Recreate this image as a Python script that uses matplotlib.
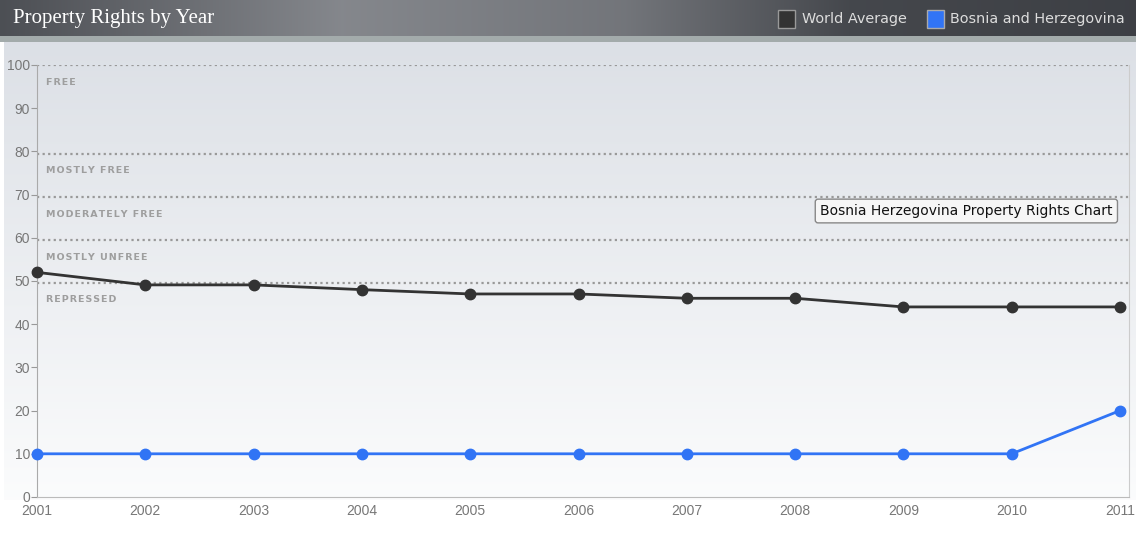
import numpy as np
import matplotlib
matplotlib.use('Agg')
import matplotlib.pyplot as plt
from matplotlib.patches import Rectangle

years = [2001, 2002, 2003, 2004, 2005, 2006, 2007, 2008, 2009, 2010, 2011]
world_average = [52, 49.1, 49.1, 48, 47, 47, 46, 46, 44, 44, 44]
bosnia = [10, 10, 10, 10, 10, 10, 10, 10, 10, 10, 20]
band_edges = [100, 79.5, 69.5, 59.5, 49.5]
band_labels = ['FREE', 'MOSTLY FREE', 'MODERATELY FREE', 'MOSTLY UNFREE', 'REPRESSED']
y_ticks = list(range(0, 101, 10))

W, H = 1136, 553
fig = plt.figure(figsize=(W / 100, H / 100), dpi=100)
fig.patch.set_facecolor('white')


def fx(px):
    return px / W


def fy(py):
    return 1 - py / H


# header bar with horizontal gradient
hdr = fig.add_axes([0, fy(36), 1, 36 / H])
xs = np.linspace(0, 1, 400)
prof = np.interp(xs, [0, 0.3, 0.55, 0.75, 1], [0.30, 0.52, 0.45, 0.27, 0.24])
img = np.zeros((2, 400, 3))
img[..., 0] = prof
img[..., 1] = prof + 0.01
img[..., 2] = prof + 0.03
hdr.imshow(np.clip(img, 0, 1), aspect='auto', extent=[0, 1, 0, 1])
hdr.set_xlim(0, 1)
hdr.set_ylim(0, 1)
hdr.axis('off')
hdr.text(fx(13), 0.5, 'Property Rights by Year', color='white', fontsize=15,
         family='Liberation Serif', va='center', ha='left', transform=hdr.transAxes)

# legend in header
hdr.add_patch(Rectangle((fx(778), 0.22), fx(17), 0.5, facecolor='#333333',
                        edgecolor='#999999', lw=1, transform=hdr.transAxes))
hdr.text(fx(802), 0.47, 'World Average', color='#dddddd', fontsize=10.4,
         va='center', ha='left', transform=hdr.transAxes)
hdr.add_patch(Rectangle((fx(927), 0.22), fx(17), 0.5, facecolor='#3174f5',
                        edgecolor='#aaaaaa', lw=1, transform=hdr.transAxes))
hdr.text(fx(950), 0.47, 'Bosnia and Herzegovina', color='#dddddd', fontsize=10.4,
         va='center', ha='left', transform=hdr.transAxes)

# strip under header
strip = fig.add_axes([0, fy(42), 1, 6 / H])
strip.set_facecolor('#a3abab')
strip.set_xticks([])
strip.set_yticks([])
for s in strip.spines.values():
    s.set_visible(False)

# panel background gradient
bg = fig.add_axes([fx(4), fy(500), fx(1132), 458 / H])
grad = np.linspace(0, 1, 300).reshape(-1, 1)
top = np.array([0.863, 0.878, 0.902])
bot = np.array([0.985, 0.988, 0.990])
gimg = top + (bot - top) * grad[..., None]
gimg = np.repeat(gimg, 2, axis=1)
bg.imshow(gimg, aspect='auto', extent=[0, 1, 0, 1])
bg.axis('off')

# main plot axes
ax = fig.add_axes([fx(37), fy(497), fx(1129 - 37), (497 - 65) / H])
ax.patch.set_alpha(0)
ax.set_xlim(2001, 2011.083)
ax.set_ylim(0, 100)

for e in band_edges:
    ax.axhline(e, color='#999999', lw=1.6, ls=(0, (1, 1.5)), zorder=1)
label_y = [96, 75.5, 65.5, 55.5, 45.8]
for lab, yy in zip(band_labels, label_y):
    spaced = '\u200a'.join(lab)
    ax.text(2001.08, yy, spaced, fontsize=6.8, fontweight='bold', color='#9e9e9e',
            va='center', ha='left')

ax.plot(years, world_average, color='#333333', lw=2, marker='o', ms=7.5,
        zorder=3, clip_on=False)
ax.plot(years, bosnia, color='#3174f5', lw=2, marker='o', ms=7.5,
        zorder=3, clip_on=False)

ax.set_yticks(y_ticks)
ax.set_xticks(years)
ax.tick_params(axis='y', length=4, color='#999999', labelcolor='#777777',
               labelsize=10, pad=1)
ax.tick_params(axis='x', length=0, labelcolor='#777777', labelsize=10, pad=5)
for lab in ax.get_xticklabels() + ax.get_yticklabels():
    lab.set_family('Liberation Sans')
ax.spines['top'].set_visible(False)
ax.spines['left'].set_color('#aaaaaa')
ax.spines['bottom'].set_color('#bbbbbb')
ax.spines['right'].set_color('#cccccc')

# tooltip-like box
ax.text(0.985, 0.662, 'Bosnia Herzegovina Property Rights Chart', transform=ax.transAxes,
        fontsize=10, color='#111111', ha='right', va='center',
        bbox=dict(boxstyle='round,pad=0.35,rounding_size=0.2', facecolor='#f6f6f6',
                  edgecolor='#888888', lw=1))

fig.savefig('out.png', dpi=100)
